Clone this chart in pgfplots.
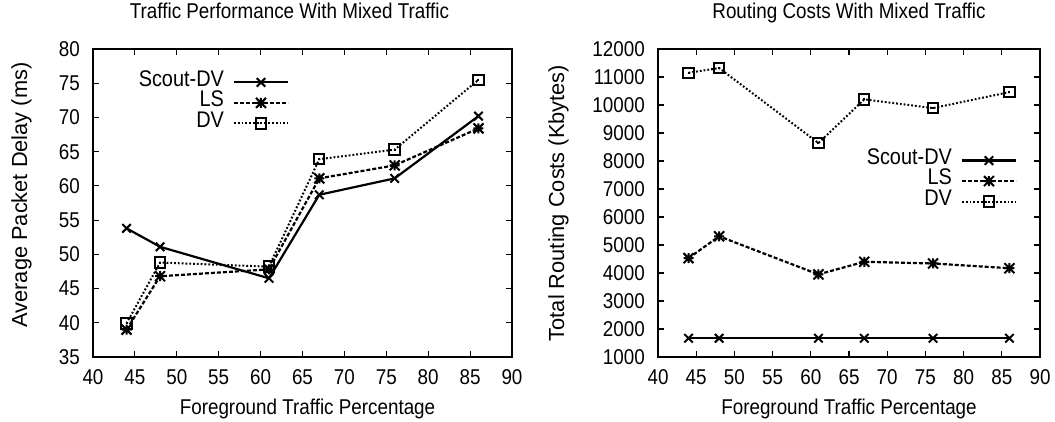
\documentclass[border=0pt]{standalone}
\usepackage{fontspec}
\setmainfont{Liberation Sans}[FakeStretch=0.88]
\newfontfamily\ylabfont{Liberation Sans}
\usepackage{pgfplots}
\pgfplotsset{compat=1.18}
\newcommand\gpfont{\fontsize{21.4}{25}\selectfont}
\newcommand\gplfont{\fontsize{22.6}{26}\selectfont}
\newcommand\gpyfont{\ylabfont\fontsize{21.8}{26}\selectfont}

\pgfdeclareplotmark{gpstar}{%
 \pgfpathmoveto{\pgfqpoint{-\pgfplotmarksize}{0pt}}\pgfpathlineto{\pgfqpoint{\pgfplotmarksize}{0pt}}%
 \pgfpathmoveto{\pgfqpoint{0pt}{-\pgfplotmarksize}}\pgfpathlineto{\pgfqpoint{0pt}{\pgfplotmarksize}}%
 \pgfpathmoveto{\pgfqpoint{-\pgfplotmarksize}{-\pgfplotmarksize}}\pgfpathlineto{\pgfqpoint{\pgfplotmarksize}{\pgfplotmarksize}}%
 \pgfpathmoveto{\pgfqpoint{-\pgfplotmarksize}{\pgfplotmarksize}}\pgfpathlineto{\pgfqpoint{\pgfplotmarksize}{-\pgfplotmarksize}}%
 \pgfusepathqstroke}
\pgfdeclareplotmark{gpbox}{%
 \pgfpathrectangle{\pgfqpoint{-\pgfplotmarksize}{-\pgfplotmarksize}}{\pgfqpoint{2\pgfplotmarksize}{2\pgfplotmarksize}}%
 \pgfusepathqstroke
 \pgfpathrectangle{\pgfqpoint{-1pt}{-1pt}}{\pgfqpoint{2pt}{2pt}}\pgfusepathqfill}

\pgfplotsset{
 gp/.style={
  scale only axis, height=308pt, anchor=south west,
  axis line style={line width=1.3pt},
  tick style={line width=1.1pt, black},
  major tick length=6pt, tick align=inside,
  xmin=40, xmax=90, xtick={40,45,...,90},
  scaled y ticks=false, scaled x ticks=false,
  /pgf/number format/assume math mode=true,
  /pgf/number format/1000 sep={},
  ticklabel style={font=\gpfont},
  xticklabel style={anchor=base, inner sep=0pt, yshift=-28pt},
  yticklabel style={anchor=east, inner sep=0pt, xshift=-13pt},
  title style={font=\gpfont, anchor=base, at={(axis description cs:0.5,1)}, yshift=24pt},
  xlabel style={font=\gpfont, anchor=base, at={(axis description cs:0.5,0)}, yshift=-58pt},
  legend style={draw=none, fill=none, inner sep=0pt, outer sep=0pt,
    row sep=0pt, column sep=9pt, font=\gplfont,
    nodes={inner sep=0pt, text height=14pt, text depth=6.5pt}},
  legend cell align=right, legend plot pos=right,
  legend image code/.code={\draw[mark repeat=2,mark phase=2] plot coordinates {(0pt,0pt) (27pt,0pt) (54pt,0pt)};},
 },
 sdv/.style={black, line width=2.2pt, mark=x, mark size=6pt, mark options={solid, line width=2pt}},
 ls/.style={black, line width=2.2pt, dash pattern=on 4pt off 2pt, mark=gpstar, mark size=5pt, mark options={solid, line width=2pt}},
 dv/.style={black, line width=2pt, dash pattern=on 1.8pt off 2pt, mark=gpbox, mark size=5.2pt, mark options={solid, line width=2pt}},
}

\begin{document}
\begin{tikzpicture}
\begin{axis}[gp, at={(93pt,65pt)}, width=419pt,
  ymin=35, ymax=80, ytick={35,40,...,80},
  title={Traffic Performance With Mixed Traffic},
  title style={xshift=-13pt},
  xlabel={Foreground Traffic Percentage},
  xlabel style={xshift=5pt},
  ylabel={Average Packet Delay (ms)},
  ylabel style={font=\gpyfont, anchor=base, at={(axis description cs:-0.1575,0.526)}},
  legend style={at={(axis description cs:0.468,0.925)}, anchor=north east},
]
\addplot[sdv] coordinates {(44,53.8) (48,51.1) (61,46.5) (67,58.7) (76,61.1) (86,70.2)};
\addlegendentry{Scout-DV}
\addplot[ls] coordinates {(44,39.0) (48,46.8) (61,47.8) (67,61.1) (76,63.0) (86,68.4)};
\addlegendentry{LS}
\addplot[dv] coordinates {(44,39.9) (48,48.8) (61,48.2) (67,63.9) (76,65.3) (86,75.5)};
\addlegendentry{DV}
\end{axis}
\begin{axis}[gp, at={(658pt,65pt)}, width=382pt,
  ymin=1000, ymax=12000, ytick={1000,2000,...,12000},
  title={Routing Costs With Mixed Traffic},
  xlabel={Foreground Traffic Percentage},
  ylabel={Total Routing Costs (Kbytes)},
  ylabel style={font=\gpyfont, anchor=base, at={(axis description cs:-0.246,0.5)}},
  legend style={at={(axis description cs:0.94,0.671)}, anchor=north east},
]
\addplot[sdv] coordinates {(44,1670) (48,1670) (61,1670) (67,1670) (76,1670) (86,1670)};
\addlegendentry{Scout-DV}
\addplot[ls] coordinates {(44,4530) (48,5310) (61,3950) (67,4400) (76,4340) (86,4170)};
\addlegendentry{LS}
\addplot[dv] coordinates {(44,11150) (48,11320) (61,8640) (67,10200) (76,9890) (86,10460)};
\addlegendentry{DV}
\end{axis}
\pgfresetboundingbox
\useasboundingbox (0,0) rectangle (1055pt,422pt);
\end{tikzpicture}
\end{document}
